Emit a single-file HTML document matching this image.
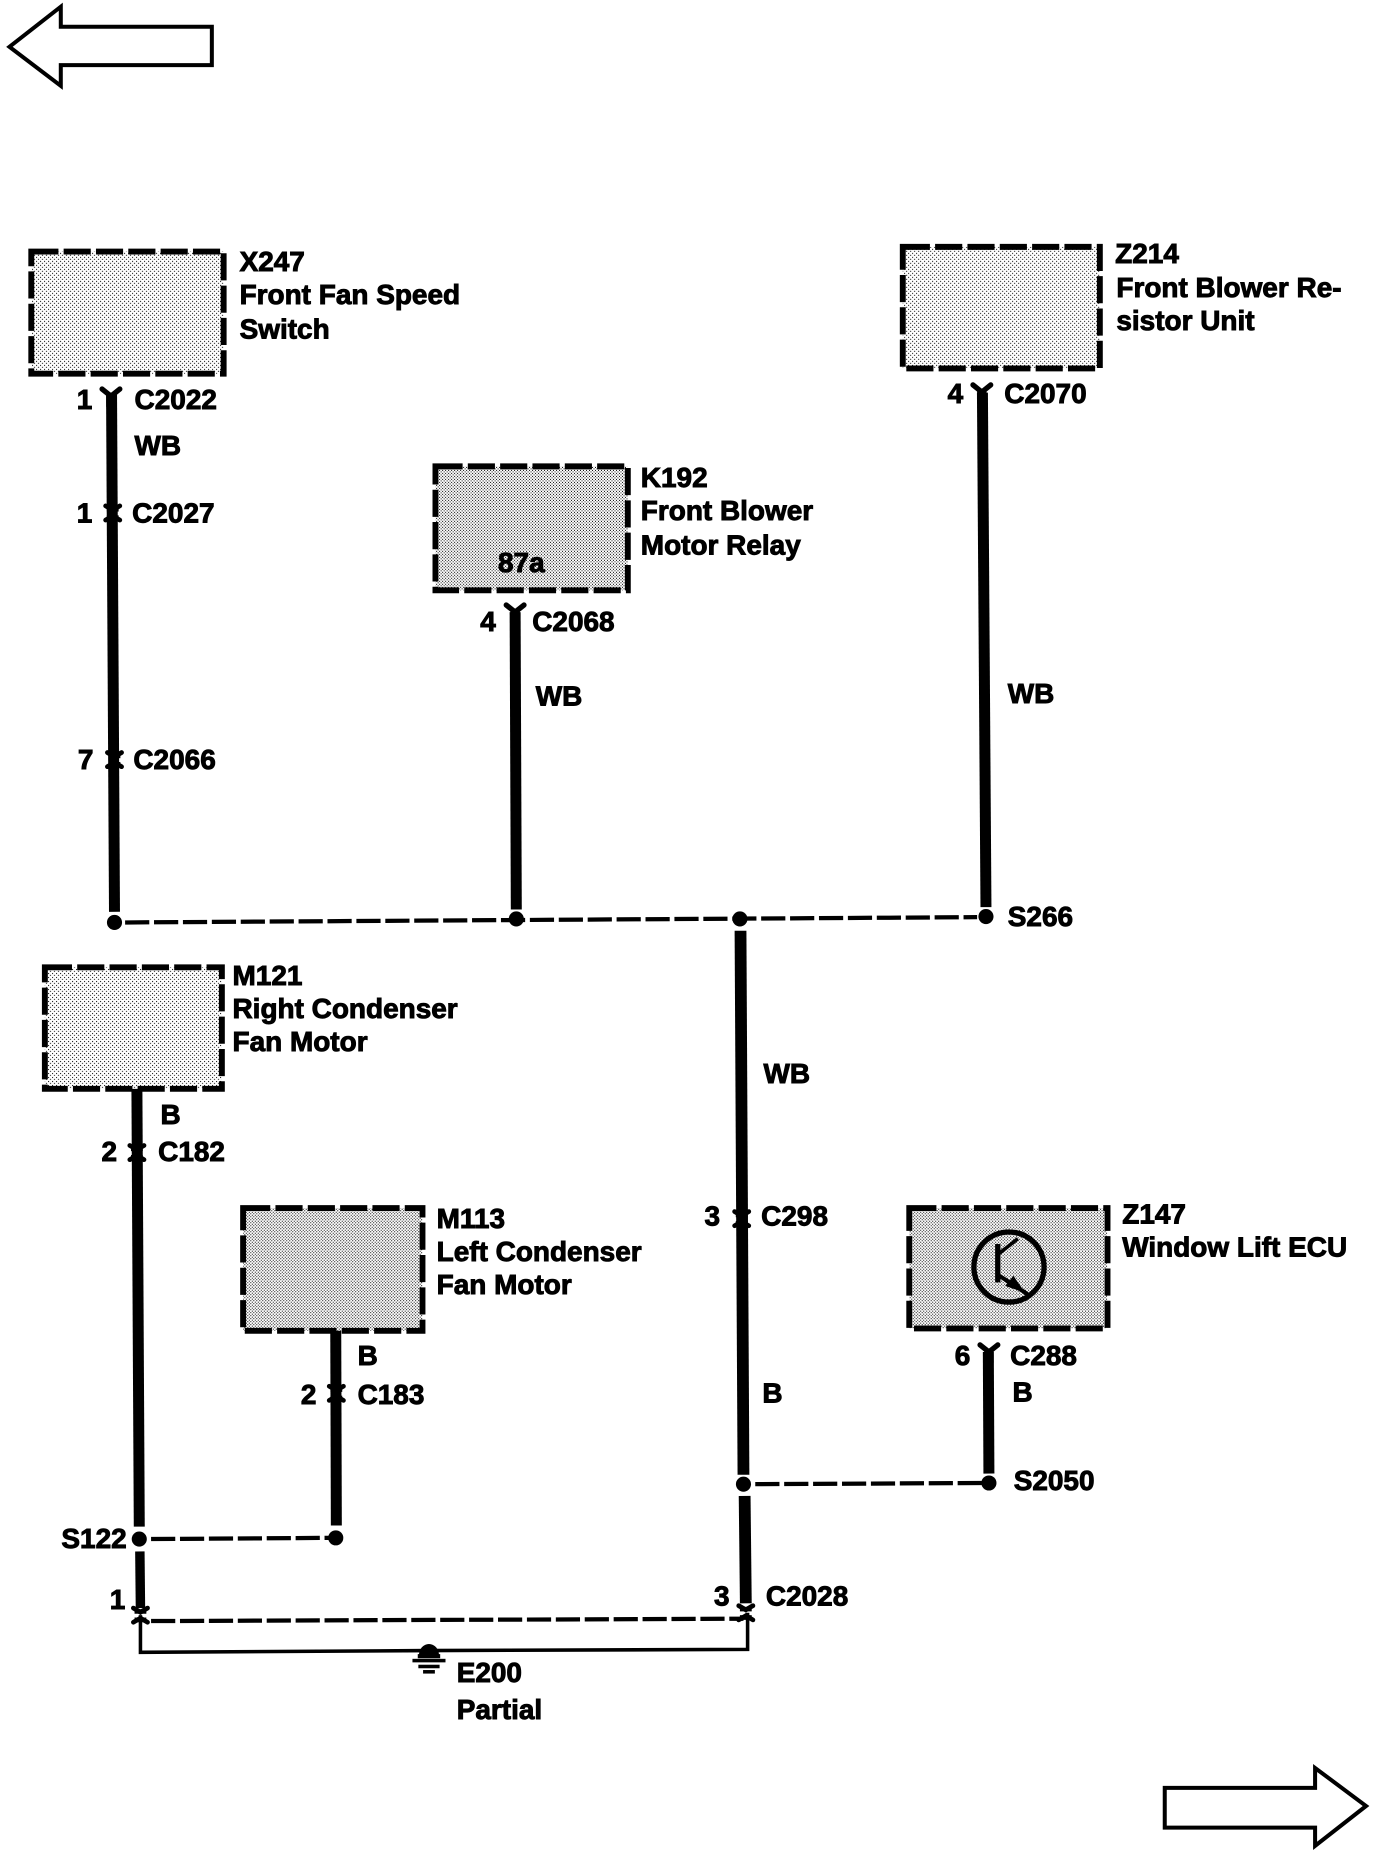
<!DOCTYPE html>
<html><head><meta charset="utf-8"><style>
html,body{margin:0;padding:0;background:#fff;width:1376px;height:1852px;overflow:hidden}
svg{display:block}
text{font-family:"Liberation Sans",sans-serif;font-weight:bold;font-size:23.7px;fill:#000;stroke:#000;stroke-width:.8px}
.w{stroke:#000;stroke-width:9.300;fill:none}
.d{stroke:#000;stroke-width:3.600;fill:none;stroke-dasharray:20.500 4}
.b{stroke:#000;stroke-width:5;stroke-dasharray:23 4.400}
</style></head><body>
<svg width="1376" height="1852" viewBox="0 0 1166 1569.4" xmlns="http://www.w3.org/2000/svg">
<defs>
<pattern id="l" width="3.39" height="3.39" patternUnits="userSpaceOnUse"><rect width="3.39" height="3.39" fill="#fff"/><rect width=".85" height=".85" fill="#000"/><rect x="1.69" y="1.69" width=".85" height=".85" fill="#000"/></pattern>
<pattern id="m" width="2.54" height="2.54" patternUnits="userSpaceOnUse"><rect width="2.54" height="2.54" fill="#fff"/><rect width=".85" height=".85" fill="#000"/><rect x="1.27" y="1.27" width=".85" height=".85" fill="#000"/></pattern>
<g id="y"><path d="M-7.500,-6 L0,0 L7.500,-6" fill="none" stroke="#000" stroke-width="4.500" stroke-linecap="round"/><rect x="-4" y="-1" width="8" height="10"/></g>
<g id="x"><path d="M-6,-6 L0,-2.500 L6,-6 M-6,6 L0,2.500 L6,6" fill="none" stroke="#000" stroke-width="4" stroke-linecap="round"/><rect x="-5" y="-5" width="10" height="3.800"/><rect x="-5" y="2" width="10" height="4"/></g>
</defs>
<rect width="1166" height="1570" fill="#fff"/>
<g transform="translate(0,.7)">
<polygon points="8,39 51.500,5 51.500,22 179.500,22 179.500,54.500 51.500,54.500 51.500,72" fill="#fff" stroke="#000" stroke-width="3.400"/>
<polygon points="987,1514.400 1114.400,1514.400 1114.400,1497.500 1157.600,1529.700 1114.400,1563.500 1114.400,1548 987,1548" fill="#fff" stroke="#000" stroke-width="3.400"/>

<rect class="b" x="26.500" y="212.500" width="163" height="103.500" fill="url(#l)"/>
<rect class="b" x="765" y="208.500" width="167" height="103" fill="url(#l)"/>
<rect class="b" x="369" y="394.500" width="163" height="105" fill="url(#m)"/>
<rect class="b" x="38" y="819" width="150" height="103" fill="url(#l)"/>
<rect class="b" x="206" y="1023" width="152" height="104" fill="url(#m)"/>
<rect class="b" x="770.500" y="1023" width="168" height="102" fill="url(#m)"/>

<path class="w" d="M94.500,332 L97,772"/>
<path class="w" d="M436.500,518 L437.500,770"/>
<path class="w" d="M832.500,332 L835.500,768"/>
<path class="w" d="M627.500,788 L630,1249" style="stroke-width:10"/>
<path class="w" d="M631,1267 L632,1358" style="stroke-width:10"/>
<path class="w" d="M116,922 L118,1293"/>
<path class="w" d="M118.500,1314 L119,1362" style="stroke-width:8"/>
<path class="w" d="M284.500,1127 L285,1292"/>
<path class="w" d="M837.500,1145 L838,1248"/>

<path class="d" d="M106,781 L828,776.500"/>
<path class="d" d="M128,1303.500 L280,1302.500"/>
<path class="d" d="M640,1257 L834,1256"/>
<path class="d" d="M128,1373 L630,1371"/>
<path d="M119,1368 L119,1399.500 L363,1398 L633.500,1397 L633.500,1366" fill="none" stroke="#000" stroke-width="3"/>

<g fill="#000">
<circle cx="97" cy="781" r="6.400"/><circle cx="437.500" cy="778" r="6.400"/><circle cx="627" cy="778" r="6.400"/><circle cx="835.500" cy="776" r="6.400"/>
<circle cx="118" cy="1303.500" r="6.400"/><circle cx="284.500" cy="1302.500" r="6.400"/><circle cx="630" cy="1257" r="6.400"/><circle cx="838" cy="1256" r="6.400"/>
<use href="#y" x="94" y="335"/><use href="#y" x="436.500" y="518"/><use href="#y" x="832" y="331.500"/><use href="#y" x="838" y="1145"/>
<use href="#x" x="95.500" y="434"/><use href="#x" x="97" y="643"/><use href="#x" x="116" y="976"/><use href="#x" x="285" y="1180"/><use href="#x" x="628.500" y="1032"/>
<use href="#x" x="119" y="1368"/><use href="#x" x="632" y="1366"/>
<path d="M355,1402 A8,9 0 0 1 372,1402 Z"/><rect x="354" y="1401" width="19" height="3.500"/><rect x="349.500" y="1405" width="28" height="3"/><rect x="354.500" y="1410" width="18" height="3"/><rect x="358.500" y="1414.500" width="10" height="3"/>
</g>

<g fill="none" stroke="#000">
<circle cx="855" cy="1073" r="29.700" stroke-width="4.500"/>
<path d="M845.500,1053.500 L845.500,1086" stroke-width="4.500"/>
<path d="M846,1062 L862.500,1049" stroke-width="3"/>
<path d="M847,1080.500 L873,1097.500" stroke-width="3.500"/>
</g>
<polygon points="868.600,1094.700 858.800,1080.500 851.700,1089" fill="#000"/>

<text x="203" y="229">X247</text><text x="203" y="257">Front Fan Speed</text><text x="203" y="286">Switch</text>
<text x="65" y="346">1</text><text x="114" y="346">C2022</text><text x="114" y="385">WB</text>
<text x="65" y="442">1</text><text x="112" y="442">C2027</text>
<text x="66" y="651">7</text><text x="113" y="651">C2066</text>
<text x="945" y="222">Z214</text><text x="946" y="251">Front Blower Re-</text><text x="946" y="279">sistor Unit</text>
<text x="803" y="341">4</text><text x="851" y="341">C2070</text>
<text x="543" y="412">K192</text><text x="543" y="440">Front Blower</text><text x="543" y="469">Motor Relay</text>
<text x="422" y="484">87a</text>
<text x="407" y="534">4</text><text x="451" y="534">C2068</text>
<text x="454" y="597">WB</text><text x="854" y="595">WB</text><text x="854" y="784">S266</text>
<text x="197" y="834">M121</text><text x="197" y="862">Right Condenser</text><text x="197" y="890">Fan Motor</text>
<text x="136" y="952">B</text><text x="86" y="983">2</text><text x="134" y="983">C182</text>
<text x="370" y="1040">M113</text><text x="370" y="1068">Left Condenser</text><text x="370" y="1096">Fan Motor</text>
<text x="303" y="1156">B</text><text x="255" y="1189">2</text><text x="303" y="1189">C183</text>
<text x="647" y="917">WB</text><text x="597" y="1038">3</text><text x="645" y="1038">C298</text><text x="646" y="1188">B</text>
<text x="951" y="1036">Z147</text><text x="951" y="1064">Window Lift ECU</text>
<text x="809" y="1156">6</text><text x="856" y="1156">C288</text><text x="858" y="1187">B</text><text x="859" y="1262">S2050</text>
<text x="52" y="1311">S122</text><text x="93" y="1363">1</text><text x="605" y="1360">3</text><text x="649" y="1360">C2028</text>
<text x="387" y="1424.500">E200</text><text x="387" y="1456">Partial</text>
</g>
</svg>
</body></html>
